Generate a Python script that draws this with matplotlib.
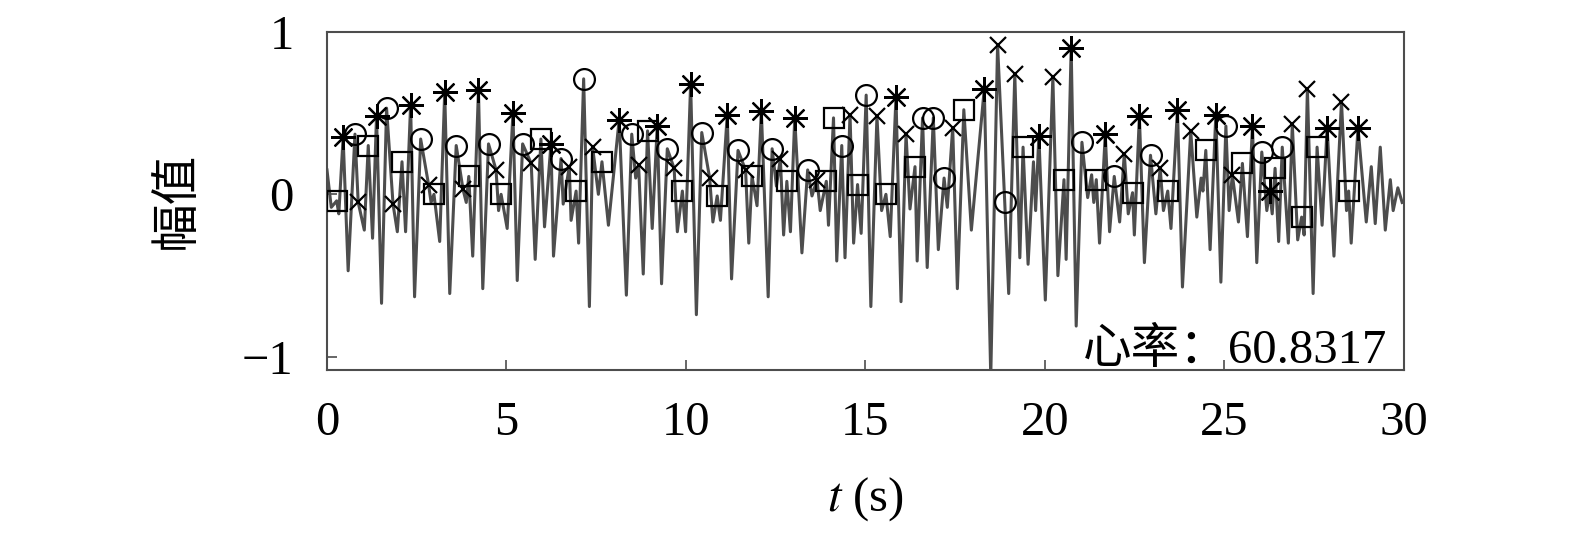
import matplotlib
matplotlib.use('Agg')
import matplotlib.pyplot as plt

# signal keypoints (time s, amplitude)
sig_t = [0.00, 0.12, 0.27, 0.33, 0.45, 0.59, 0.78, 0.87, 1.04, 1.15, 1.27, 1.38, 1.52, 1.66, 1.84, 1.96,
         2.09, 2.19, 2.33, 2.44, 2.61, 2.83, 2.90, 2.98, 3.14, 3.28, 3.42, 3.60, 3.79, 3.88, 3.95, 4.06,
         4.22, 4.34, 4.50, 4.71, 4.78, 4.85, 5.02, 5.18, 5.30, 5.45, 5.69, 5.80, 5.96, 6.06, 6.24, 6.31,
         6.52, 6.58, 6.75, 6.80, 6.94, 7.01, 7.15, 7.31, 7.40, 7.56, 7.66, 7.84, 8.14, 8.34, 8.49, 8.60,
         8.68, 8.81, 8.93, 9.06, 9.20, 9.32, 9.48, 9.67, 9.76, 9.90, 9.99, 10.13, 10.29, 10.44, 10.66,
         10.75, 10.87, 10.96, 11.15, 11.27, 11.45, 11.66, 11.75, 11.84, 11.98, 12.10, 12.29, 12.40, 12.52,
         12.63, 12.72, 12.81, 12.91, 13.03, 13.23, 13.39, 13.51, 13.65, 13.74, 13.91, 13.97, 14.11, 14.20,
         14.34, 14.43, 14.57, 14.67, 14.78, 14.88, 15.02, 15.15, 15.32, 15.45, 15.57, 15.69, 15.85, 15.99,
         16.13, 16.24, 16.38, 16.44, 16.59, 16.72, 16.89, 17.03, 17.19, 17.28, 17.43, 17.56, 17.74, 17.95,
         18.31, 18.49, 18.68, 18.88, 18.99, 19.16, 19.30, 19.39, 19.53, 19.68, 19.74, 19.83, 20.01, 20.22,
         20.36, 20.53, 20.59, 20.73, 20.87, 21.03, 21.19, 21.30, 21.36, 21.43, 21.52, 21.68, 21.80, 21.93,
         22.08, 22.21, 22.32, 22.44, 22.49, 22.63, 22.77, 22.94, 23.09, 23.21, 23.30, 23.42, 23.51, 23.69,
         23.83, 24.06, 24.23, 24.35, 24.40, 24.48, 24.60, 24.76, 24.90, 25.04, 25.13, 25.22, 25.39, 25.50,
         25.64, 25.78, 25.90, 26.04, 26.18, 26.26, 26.33, 26.41, 26.51, 26.61, 26.78, 26.89, 27.04, 27.15,
         27.22, 27.31, 27.47, 27.58, 27.72, 27.86, 28.05, 28.26, 28.40, 28.46, 28.53, 28.72, 28.95, 29.09,
         29.20, 29.34, 29.48, 29.62, 29.70, 29.83, 29.95]
sig_a = [0.15, -0.08, -0.04, -0.12, 0.35, -0.47, 0.37, -0.05, -0.22, 0.30, -0.27, 0.48, -0.67, 0.53, -0.06, -0.23,
         0.20, -0.23, 0.55, -0.63, 0.34, 0.06, -0.05, 0.00, -0.29, 0.63, -0.61, 0.30, 0.03, -0.05, 0.11, -0.38,
         0.64, -0.58, 0.31, 0.15, -0.10, 0.00, -0.21, 0.50, -0.53, 0.31, 0.19, -0.40, 0.34, -0.20, 0.31, -0.38,
         0.22, -0.06, 0.17, -0.16, 0.02, -0.30, 0.71, -0.69, 0.29, 0.00, 0.20, -0.19, 0.46, -0.62, 0.37, 0.10,
         0.18, -0.49, 0.39, -0.21, 0.42, -0.55, 0.28, 0.16, -0.23, 0.02, -0.23, 0.68, -0.74, 0.38, 0.10,
         -0.17, -0.01, -0.16, 0.49, -0.52, 0.27, 0.15, -0.30, 0.11, -0.07, 0.51, -0.63, 0.28, 0.05,
         0.22, -0.25, 0.08, -0.23, 0.47, -0.36, 0.15, -0.01, 0.09, -0.10, 0.08, -0.19, 0.47, -0.41,
         0.30, -0.39, 0.49, -0.30, 0.06, -0.24, 0.61, -0.69, 0.48, -0.10, 0.00, -0.26, 0.60, -0.66,
         0.37, -0.09, 0.17, -0.41, 0.47, -0.45, 0.47, -0.34, 0.10, -0.08, 0.41, -0.58, 0.52, -0.22,
         0.65, -1.12, 0.92, -0.05, -0.61, 0.74, -0.39, 0.29, -0.43, 0.20, -0.10, 0.36, -0.65, 0.72,
         -0.50, 0.09, -0.40, 0.90, -0.81, 0.32, -0.02, 0.12, -0.05, 0.09, -0.30, 0.37, -0.23, 0.11,
         -0.17, 0.25, -0.12, 0.01, -0.25, 0.48, -0.42, 0.24, -0.12, 0.16, -0.10, 0.02, -0.21, 0.52,
         -0.57, 0.39, -0.14, 0.10, 0.02, 0.27, -0.34, 0.49, -0.54, 0.42, -0.10, 0.12, -0.17, 0.19,
         -0.26, 0.42, -0.42, 0.26, -0.10, 0.02, -0.12, 0.16, -0.29, 0.29, -0.30, 0.43, -0.28, -0.14,
         -0.25, 0.65, -0.61, 0.29, -0.19, 0.41, -0.38, 0.57, -0.10, 0.02, -0.30, 0.41, -0.17, 0.17,
         -0.18, 0.29, -0.22, 0.09, -0.10, 0.04, -0.05]

# detected points, one list per marker type
star_t = [0.45, 1.38, 2.33, 3.28, 4.22, 5.18, 6.24, 8.14, 9.20, 10.13, 11.15, 12.10, 13.03, 15.85,
          18.31, 19.83, 20.73, 21.68, 22.63, 23.69, 24.76, 25.78, 26.26, 27.86, 28.72]
star_a = [0.35, 0.48, 0.55, 0.63, 0.64, 0.50, 0.31, 0.46, 0.42, 0.68, 0.49, 0.51, 0.47, 0.60,
          0.65, 0.36, 0.90, 0.37, 0.48, 0.52, 0.49, 0.42, 0.02, 0.41, 0.41]
circ_t = [0.78, 1.66, 2.61, 3.60, 4.50, 5.45, 6.52, 7.15, 8.49, 9.48, 10.44, 11.45, 12.40, 13.39,
          14.34, 15.02, 16.59, 16.89, 17.19, 18.88, 21.03, 21.93, 22.94, 25.04, 26.04, 26.61]
circ_a = [0.37, 0.53, 0.34, 0.30, 0.31, 0.31, 0.22, 0.71, 0.37, 0.28, 0.38, 0.27, 0.28, 0.15,
          0.30, 0.61, 0.47, 0.47, 0.10, -0.05, 0.32, 0.11, 0.24, 0.42, 0.26, 0.29]
sq_t = [0.27, 1.15, 2.09, 2.98, 3.95, 4.85, 5.96, 6.94, 7.66, 8.93, 9.90, 10.87, 11.84, 12.81, 13.91,
        14.11, 14.78, 15.57, 16.38, 17.74, 19.39, 20.53, 21.43, 22.44, 23.42, 24.48, 25.50, 26.41,
        27.15, 27.58, 28.46]
sq_a = [-0.04, 0.30, 0.20, 0.00, 0.11, 0.00, 0.34, 0.02, 0.20, 0.39, 0.02, -0.01, 0.11, 0.08, 0.08,
        0.47, 0.06, 0.00, 0.17, 0.52, 0.29, 0.09, 0.09, 0.01, 0.02, 0.27, 0.19, 0.16,
        -0.14, 0.29, 0.02]
x_t = [0.87, 1.84, 2.83, 3.79, 4.71, 5.69, 6.75, 7.40, 8.68, 9.67, 10.66, 11.66, 12.63, 13.65, 14.57,
       15.32, 16.13, 17.43, 18.68, 19.16, 20.22, 22.21, 23.21, 24.06, 25.22, 26.89, 27.31, 28.26]
x_a = [-0.05, -0.06, 0.06, 0.03, 0.15, 0.19, 0.17, 0.29, 0.18, 0.16, 0.10, 0.15, 0.22, 0.09, 0.49,
       0.48, 0.37, 0.41, 0.92, 0.74, 0.72, 0.25, 0.16, 0.39, 0.12, 0.43, 0.65, 0.57]

heart_rate = 60.8317

serif = ['Liberation Serif', 'Noto Sans CJK SC']
cjk = ['Noto Sans CJK SC', 'DejaVu Sans']
plt.rcParams['font.family'] = serif
plt.rcParams['mathtext.fontset'] = 'stix'

fig = plt.figure(figsize=(15.75, 5.47), dpi=100)
ax = fig.add_axes([0.2076, 0.3236, 0.6838, 0.6185])

ax.plot(sig_t, sig_a, color='0.3', lw=2.2, zorder=2)
mk = dict(ls='none', mfc='none', mec='black', mew=1.6, zorder=3)
ax.plot(star_t, star_a, marker=(8, 2, 0), ms=18, **mk)
ax.plot(circ_t, circ_a, marker='o', ms=15, **mk)
ax.plot(sq_t, sq_a, marker='s', ms=14, **mk)
ax.plot(x_t, x_a, marker='x', ms=12, **mk)

ax.set_xlim(0, 30)
ax.set_ylim(-1.08, 1.0)
ax.set_xticks([0, 5, 10, 15, 20, 25, 30])
ax.set_yticks([-1, 0, 1])
ax.tick_params(direction='in', length=7, width=1.2, labelsize=35, pad=24, color='0.3')
ax.tick_params(axis='x', pad=22)
for s in ax.spines.values():
    s.set_color('0.3')
    s.set_linewidth(1.5)

ax.set_xlabel('$t$ (s)', fontsize=35, labelpad=22)
ax.set_ylabel('幅值', fontsize=35, family=cjk, labelpad=30)

ax.text(0.984, 0.02, '心率：' + str(heart_rate), transform=ax.transAxes, ha='right', va='baseline',
        fontsize=35, family=serif)

plt.savefig('out.png')
